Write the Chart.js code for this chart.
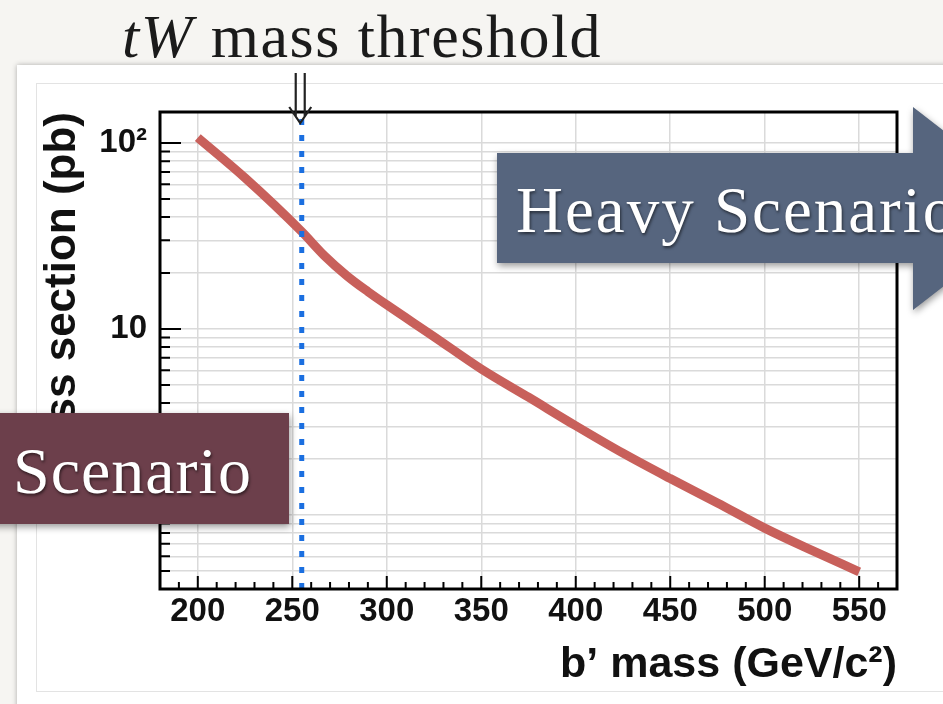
<!DOCTYPE html>
<html>
<head>
<meta charset="utf-8">
<script src="https://cdn.jsdelivr.net/npm/chart.js@4.4.1/dist/chart.umd.min.js"></script>
<style>
  html, body { margin: 0; padding: 0; background: #f6f5f2; }
  #wrap { width: 943px; height: 704px; }
</style>
</head>
<body>
<div id="wrap"><canvas id="xsecChart" width="943" height="704"></canvas></div>
<script>
// b' pair production cross section vs mass
const massPoints   = [200, 225, 255, 267, 279, 290, 300, 325, 350, 375, 400, 425, 450, 475, 500, 525, 550];
const crossSection = [107, 65, 33.4, 24.8, 19.3, 15.9, 13.5, 9.1, 6.1, 4.3, 3.02, 2.15, 1.57, 1.16, 0.85, 0.645, 0.495];

const thresholdMass = 255;           // tW threshold marker
const xRange = [180, 570];
const yRange = [0.4, 147];

const xTickValues = [200, 250, 300, 350, 400, 450, 500, 550];
const yGridValues = [0.4, 0.5, 0.6, 0.7, 0.8, 0.9,
                     1, 2, 3, 4, 5, 6, 7, 8, 9,
                     10, 20, 30, 40, 50, 60, 70, 80, 90, 100];
const yLabelValues = [1, 10, 100];
const yLabelText   = ['1', '10', '10\u00B2'];

const SERIF = '"Liberation Serif", "Times New Roman", serif';

// slide background + white panel behind the plot
const panelPlugin = {
  id: 'panel',
  beforeDraw(chart) {
    const ctx = chart.ctx;
    ctx.save();
    ctx.fillStyle = '#f6f5f2';
    ctx.fillRect(0, 0, chart.width, chart.height);
    ctx.shadowColor = 'rgba(0,0,0,0.30)';
    ctx.shadowBlur = 5;
    ctx.fillStyle = '#ffffff';
    ctx.fillRect(17, 65, 1000, 700);
    ctx.shadowColor = 'transparent';
    ctx.strokeStyle = '#e3e3e3';
    ctx.lineWidth = 1;
    ctx.strokeRect(36.5, 83.5, 1000, 608);
    ctx.restore();
  }
};

// black frame, inward ticks and the threshold arrow
const framePlugin = {
  id: 'frame',
  afterDatasetsDraw(chart) {
    const {ctx, chartArea: a, scales: {x, y}} = chart;
    ctx.save();
    ctx.strokeStyle = '#000';
    ctx.lineWidth = 3;
    ctx.strokeRect(a.left, a.top, a.right - a.left, a.bottom - a.top);

    ctx.lineWidth = 2;
    ctx.beginPath();
    for (let m = xRange[0] + 10; m < xRange[1]; m += 10) {
      const px = x.getPixelForValue(m);
      const len = m % 50 === 0 ? 13 : 7;
      ctx.moveTo(px, a.bottom);
      ctx.lineTo(px, a.bottom - len);
    }
    yGridValues.forEach(v => {
      const py = y.getPixelForValue(v);
      const len = yLabelValues.includes(v) ? 21 : 10;
      ctx.moveTo(a.left, py);
      ctx.lineTo(a.left + len, py);
    });
    ctx.stroke();

    // double-shafted arrow pointing at the threshold line
    const cx = x.getPixelForValue(thresholdMass) - 1.5;
    ctx.strokeStyle = '#222';
    ctx.lineWidth = 2.2;
    ctx.beginPath();
    ctx.moveTo(cx - 4.5, 73); ctx.lineTo(cx - 4.5, 116);
    ctx.moveTo(cx + 4.5, 73); ctx.lineTo(cx + 4.5, 116);
    ctx.moveTo(cx - 11, 107); ctx.lineTo(cx, 123); ctx.lineTo(cx + 11, 107);
    ctx.stroke();
    ctx.restore();
  }
};

// slide annotations drawn on top of the plot
const annotationPlugin = {
  id: 'annotations',
  afterDraw(chart) {
    const ctx = chart.ctx;
    ctx.save();

    // heading
    ctx.fillStyle = '#1b1b1b';
    ctx.textBaseline = 'alphabetic';
    ctx.letterSpacing = '1.5px';
    ctx.font = 'italic 62px ' + SERIF;
    ctx.fillText('tW', 122, 57);
    const w = ctx.measureText('tW').width;
    ctx.font = '62px ' + SERIF;
    ctx.fillText(' mass threshold', 122 + w, 57);

    // blue arrow banner
    ctx.shadowColor = 'rgba(0,0,0,0.40)';
    ctx.shadowBlur = 7;
    ctx.shadowOffsetX = 1;
    ctx.shadowOffsetY = 3;
    ctx.fillStyle = '#56657e';
    ctx.beginPath();
    ctx.moveTo(497, 153);
    ctx.lineTo(913, 153);
    ctx.lineTo(913, 107);
    ctx.lineTo(1044, 208);
    ctx.lineTo(913, 310);
    ctx.lineTo(913, 263);
    ctx.lineTo(497, 263);
    ctx.closePath();
    ctx.fill();

    // maroon box
    ctx.fillStyle = '#6c3f4b';
    ctx.fillRect(-10, 413, 299, 111);

    // box captions
    ctx.shadowColor = 'rgba(0,0,0,0.55)';
    ctx.shadowBlur = 3;
    ctx.shadowOffsetX = 1;
    ctx.shadowOffsetY = 2;
    ctx.fillStyle = '#ffffff';
    ctx.font = '65px ' + SERIF;
    ctx.letterSpacing = '2px';
    ctx.fillText('Heavy Scenario', 516, 232);
    ctx.font = '66px ' + SERIF;
    ctx.letterSpacing = '1px';
    ctx.fillText('Scenario', 13, 493);
    ctx.restore();
  }
};

const ctx = document.getElementById('xsecChart');

new Chart(ctx, {
  type: 'line',
  data: {
    datasets: [
      {
        label: 'tW threshold',
        data: [{x: thresholdMass, y: yRange[0]}, {x: thresholdMass, y: yRange[1]}],
        borderColor: '#1b6fe0',
        borderWidth: 5,
        borderDash: [6, 10],
        borderCapStyle: 'butt',
        pointRadius: 0
      },
      {
        label: 'cross section',
        data: massPoints.map((m, i) => ({x: m, y: crossSection[i]})),
        borderColor: '#c8605b',
        borderWidth: 9,
        borderCapStyle: 'butt',
        cubicInterpolationMode: 'monotone',
        pointRadius: 0
      }
    ]
  },
  options: {
    responsive: false,
    animation: false,
    devicePixelRatio: 1,
    layout: { padding: { left: 0, top: 112, right: 46, bottom: 0 } },
    plugins: { legend: { display: false }, tooltip: { enabled: false } },
    scales: {
      x: {
        type: 'linear',
        min: xRange[0],
        max: xRange[1],
        afterBuildTicks: scale => { scale.ticks = xTickValues.map(v => ({value: v})); },
        afterFit: scale => { scale.height = 115; },
        grid: { color: '#dadada', lineWidth: 1.5, drawTicks: false },
        border: { display: false },
        ticks: {
          autoSkip: false,
          maxRotation: 0,
          padding: 3,
          color: '#111',
          font: { family: 'Liberation Sans', size: 33, weight: 'bold' }
        },
        title: {
          display: true,
          text: 'b\u2019 mass (GeV/c\u00B2)',
          align: 'end',
          color: '#111',
          padding: { top: 0, bottom: 13 },
          font: { family: 'Liberation Sans', size: 43, weight: 'bold' }
        }
      },
      y: {
        type: 'logarithmic',
        min: yRange[0],
        max: yRange[1],
        afterBuildTicks: scale => { scale.ticks = yGridValues.map(v => ({value: v})); },
        afterFit: scale => { scale.width = 160; },
        grid: { color: '#dadada', lineWidth: 1.5, drawTicks: false },
        border: { display: false },
        ticks: {
          autoSkip: false,
          padding: 13,
          color: '#111',
          font: { family: 'Liberation Sans', size: 33, weight: 'bold' },
          callback: v => {
            const i = yLabelValues.indexOf(v);
            return i >= 0 ? yLabelText[i] : '';
          }
        },
        title: {
          display: true,
          text: 'Cross section (pb)',
          align: 'end',
          color: '#111',
          padding: { top: 36, bottom: 0 },
          font: { family: 'Liberation Sans', size: 44, weight: 'bold' }
        }
      }
    }
  },
  plugins: [panelPlugin, framePlugin, annotationPlugin]
});
</script>
</body>
</html>
